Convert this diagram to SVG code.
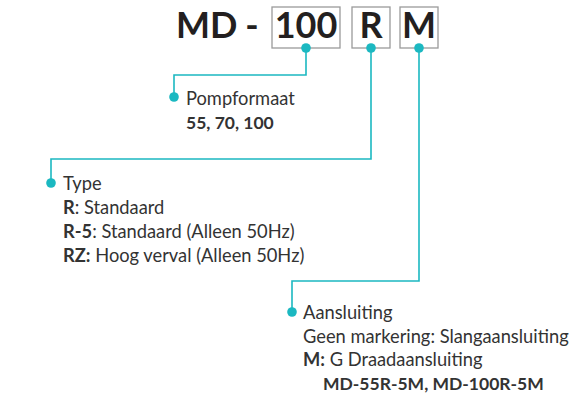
<svg xmlns="http://www.w3.org/2000/svg" width="571" height="397" viewBox="0 0 571 397">
<style>
.t{font-family:Lato,"Open Sans","Liberation Sans",sans-serif;fill:#333;font-size:18.3px}
.b{font-weight:700}
.bl{font-weight:700;font-size:17.5px}
.title{font-family:Lato,"Open Sans","Liberation Sans",sans-serif;font-weight:700;font-size:36px;fill:#231f20}
.box{fill:none;stroke:#9a9a9a;stroke-width:1.3}
.con{fill:none;stroke:#1bb8c1;stroke-width:1.6}
.dot{fill:#1bb8c1}
</style>
<rect width="571" height="397" fill="#fff"/>
<g id="title">
<text class="title" x="176" y="38">MD</text>
<text class="title" x="252" y="38" text-anchor="middle">-</text>
<rect class="box" x="272" y="7" width="68" height="41"/>
<text class="title" x="306" y="38" text-anchor="middle">100</text>
<rect class="box" x="352" y="7" width="38" height="41"/>
<text class="title" x="371" y="38" text-anchor="middle">R</text>
<rect class="box" x="400" y="7" width="38" height="41"/>
<text class="title" x="419" y="38" text-anchor="middle">M</text>
</g>
<g id="connectors">
<path class="con" d="M306,48 V75 H174 V97"/>
<path class="con" d="M371,48 V159 H51 V183"/>
<path class="con" d="M419,48 V281 H292 V312"/>
<circle class="dot" cx="306" cy="48" r="4.8"/>
<circle class="dot" cx="371" cy="48" r="4.8"/>
<circle class="dot" cx="419" cy="48" r="4.8"/>
</g>
<g id="pompformaat">
<circle class="dot" cx="174" cy="97" r="4.8"/>
<text class="t" x="186" y="105">Pompformaat</text>
<text class="t bl" x="186" y="129">55, 70, 100</text>
</g>
<g id="type">
<circle class="dot" cx="51" cy="183" r="4.8"/>
<text class="t" x="63" y="190">Type</text>
<text class="t" x="63" y="214"><tspan class="b">R</tspan>: Standaard</text>
<text class="t" x="63" y="238"><tspan class="b">R-5</tspan>: Standaard (Alleen 50Hz)</text>
<text class="t" x="63" y="262"><tspan class="b">RZ:</tspan> Hoog verval (Alleen 50Hz)</text>
</g>
<g id="aansluiting">
<circle class="dot" cx="292" cy="312" r="4.8"/>
<text class="t" x="303" y="319">Aansluiting</text>
<text class="t" x="303" y="343">Geen markering: Slangaansluiting</text>
<text class="t" x="303" y="366"><tspan class="b">M:</tspan> G Draadaansluiting</text>
<text class="t bl" x="323" y="390">MD-55R-5M, MD-100R-5M</text>
</g>
</svg>
